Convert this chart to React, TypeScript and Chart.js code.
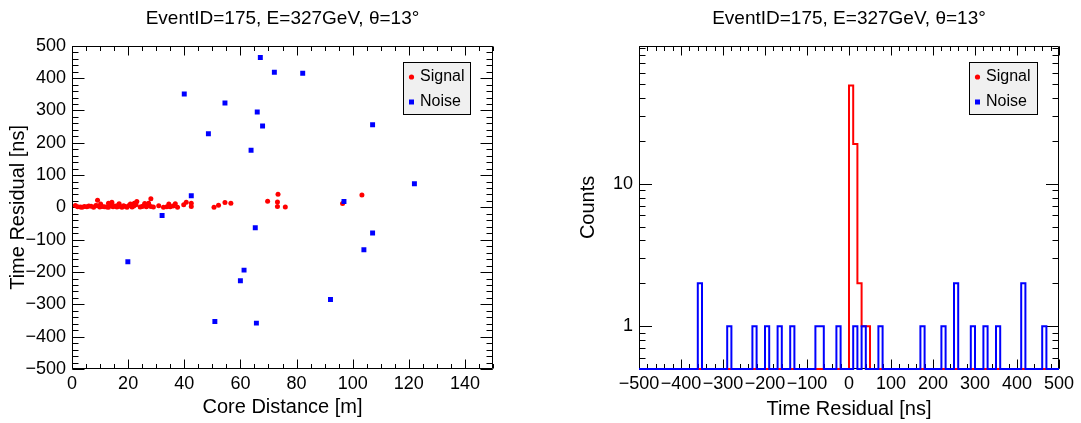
import React, { useEffect, useRef } from "react";
import { Chart, registerables } from "chart.js";

Chart.register(...registerables);

const FONT = "'Liberation Sans', Arial, Helvetica, sans-serif";
const TITLE = "EventID=175, E=327GeV, θ=13°";
const LEGEND_LABELS = ["Signal", "Noise"];
const SIGNAL_COLOR = "#ff0000";
const NOISE_COLOR = "#0000ff";

// ---- Left panel: time residual vs core distance ----
const signalDistance = [
  1.2, 2.0, 3.0, 3.6, 4.4, 5.3, 6.0, 6.8, 7.7, 8.5, 8.9, 9.9, 10.7, 11.5, 12.4, 13.0, 13.6, 14.6, 15.3, 16.0,
  16.6, 17.2, 17.8, 18.4, 19.0, 19.6, 20.3, 21.4, 22.0, 22.8, 24.3, 25.0, 25.5, 26.5, 27.0, 28.1, 29.0, 30.9,
  32.6, 33.8, 35.0, 36.0, 37.6,
  10.2, 13.0, 13.8, 14.2, 16.8, 20.8, 22.2, 23.1, 25.9, 27.3, 34.5, 36.8,
  9.1, 28.1,
  39.8, 40.7, 42.5, 42.5, 50.6, 52.2, 54.5, 56.6, 69.7, 73.2, 73.2, 73.4, 76.0, 96.4, 103.3,
];
const signalResidual = [
  6, 2, 1, 0.5, 3, 2, 4, 3.5, 0.5, 6, 5, 1, 3, 2, 1, 0.5, 6, 2, 4, 1,
  8, 3, 0.5, 5, 3, 0.2, 6, 1, 4, 8, 1, 3, 5, 2, 6, 3, 1, 5,
  0.5, 2, 2, 4, 0.5,
  10.5, 13, 11, 16, 11, 10.5, 13, 18, 12, 13, 10.2, 11,
  22, 27,
  8, 16, 13, 3, 0.5, 7, 15, 13, 19, 17, 2.5, 41, 1.5, 12, 38.7,
];
const noiseDistance = [
  67.1, 72.1, 82.2, 40.0, 54.5, 66.0, 48.6, 67.9, 63.8, 107.1, 122.0, 42.5, 96.9, 32.1, 65.3, 107.1, 104.0,
  19.9, 61.3, 60.0, 92.1, 50.9, 65.7,
];
const noiseResidual = [
  464, 418, 415, 351, 323, 295, 228, 252, 177, 256, 73, 36, 18, -25, -63, -79, -131, -168, -194, -227, -285,
  -353, -358,
];
const distanceTicks = [0, 20, 40, 60, 80, 100, 120, 140];
const residualTicks = [-500, -400, -300, -200, -100, 0, 100, 200, 300, 400, 500];

// ---- Right panel: time residual histogram (10 ns bins) ----
const BIN_WIDTH = 10;
const signalBinStart = [0, 10, 20, 30, 40];
const signalBinCount = [49, 19, 2, 1, 1];
const noiseBinStart = [-360, -290, -230, -200, -170, -140, -80, -70, -30, 10, 30, 70, 170, 220, 250, 290, 320, 350, 410, 460];
const noiseBinCount = [2, 1, 1, 1, 1, 1, 1, 1, 1, 1, 1, 1, 1, 1, 2, 1, 1, 1, 2, 1];
const histTicks = [-500, -400, -300, -200, -100, 0, 100, 200, 300, 400, 500];
const countTicks = [1, 10];
const COUNT_MIN = 0.5;
const COUNT_MAX = 93;

function range(a: number, b: number, step: number): number[] {
  const out: number[] = [];
  for (let v = a; v <= b + 1e-9; v += step) out.push(Math.round(v * 1000) / 1000);
  return out;
}

function fmt(v: number): string {
  return v < 0 ? "\u2212" + Math.abs(v) : String(v);
}

function stepOutline(starts: number[], counts: number[], lo: number, hi: number, floor: number) {
  const pts: { x: number; y: number }[] = [];
  const n = Math.round((hi - lo) / BIN_WIDTH);
  const full: number[] = new Array(n).fill(0);
  starts.forEach((s, i) => {
    const idx = Math.round((s - lo) / BIN_WIDTH);
    full[idx] = counts[i];
  });
  for (let i = 0; i < n; i++) pts.push({ x: lo + i * BIN_WIDTH, y: Math.max(full[i], floor) });
  pts.push({ x: hi, y: Math.max(full[n - 1], floor) });
  return pts;
}

const rootFrame = {
  id: "rootFrame",
  beforeDatasetsDraw(chart: any, _args: any, o: any) {
    const { ctx, chartArea: ca, scales } = chart;
    const L = Math.round(ca.left) + 0.5;
    const R = Math.round(ca.right) - 0.5;
    const T = Math.round(ca.top) + 0.5;
    const B = Math.round(ca.bottom) - 0.5;
    ctx.save();
    ctx.strokeStyle = "#000";
    ctx.lineWidth = 1;
    ctx.beginPath();
    ctx.rect(L, T, R - L, B - T);
    const xs: [number[], number][] = [
      [o.xMajor, o.xMajorLen],
      [o.xMinor, o.xMinorLen],
    ];
    for (const [vals, len] of xs) {
      for (const v of vals) {
        const p = Math.round(scales.x.getPixelForValue(v)) + 0.5;
        if (p < L - 1 || p > R + 1) continue;
        ctx.moveTo(p, B);
        ctx.lineTo(p, B - len);
        ctx.moveTo(p, T);
        ctx.lineTo(p, T + len);
      }
    }
    const ys: [number[], number][] = [
      [o.yMajor, o.yMajorLen],
      [o.yMinor, o.yMinorLen],
    ];
    for (const [vals, len] of ys) {
      for (const v of vals) {
        const p = Math.round(scales.y.getPixelForValue(v)) + 0.5;
        if (p < T - 1 || p > B + 1) continue;
        ctx.moveTo(L, p);
        ctx.lineTo(L + len, p);
        ctx.moveTo(R, p);
        ctx.lineTo(R - len, p);
      }
    }
    ctx.stroke();
    ctx.restore();
  },
  afterDraw(chart: any, _args: any, o: any) {
    const { ctx, chartArea: ca } = chart;
    const bx = Math.round(ca.right - o.legendRight - o.legendWidth) + 0.5;
    const by = Math.round(ca.top + o.legendTop) + 0.5;
    const bw = o.legendWidth;
    const bh = o.legendHeight;
    ctx.save();
    ctx.fillStyle = "#f0f0f0";
    ctx.fillRect(bx, by, bw, bh);
    ctx.strokeStyle = "#000";
    ctx.lineWidth = 1;
    ctx.strokeRect(bx, by, bw, bh);
    const rows = [by + 14.5, by + 39.5];
    const mx = bx + 8;
    // Signal marker
    ctx.fillStyle = SIGNAL_COLOR;
    ctx.beginPath();
    ctx.arc(mx, rows[0], 2.6, 0, Math.PI * 2);
    ctx.fill();
    // Noise marker
    ctx.fillStyle = NOISE_COLOR;
    ctx.fillRect(mx - 2.5, rows[1] - 2.5, 5, 5);
    ctx.fillStyle = "#000";
    ctx.font = `16px ${FONT}`;
    ctx.textBaseline = "middle";
    ctx.textAlign = "left";
    ctx.fillText(LEGEND_LABELS[0], bx + 16.5, rows[0]);
    ctx.fillText(LEGEND_LABELS[1], bx + 16.5, rows[1]);
    ctx.restore();
  },
};

function titleOpts() {
  return {
    display: true,
    text: TITLE,
    fullSize: false,
    color: "#000",
    font: { family: FONT, size: 19, weight: "normal" as const },
    padding: { top: 7, bottom: 16 },
  };
}

function axisTicks(pad: number) {
  return {
    color: "#000",
    font: { family: FONT, size: 18 },
    padding: pad,
    autoSkip: false,
    maxRotation: 0,
    minRotation: 0,
    callback: (v: any) => fmt(Number(v)),
  };
}

function ScatterPanel() {
  const ref = useRef<HTMLCanvasElement>(null);
  useEffect(() => {
    if (!ref.current) return;
    const chart = new Chart(ref.current, {
      type: "scatter",
      data: {
        datasets: [
          {
            label: LEGEND_LABELS[0],
            data: signalDistance.map((d, i) => ({ x: d, y: signalResidual[i] })),
            backgroundColor: SIGNAL_COLOR,
            borderWidth: 0,
            pointRadius: 2.5,
            pointStyle: "circle",
            order: 1,
          },
          {
            label: LEGEND_LABELS[1],
            data: noiseDistance.map((d, i) => ({ x: d, y: noiseResidual[i] })),
            backgroundColor: NOISE_COLOR,
            borderWidth: 0,
            pointRadius: 3.5,
            pointStyle: "rect",
            order: 0,
          },
        ],
      },
      options: {
        animation: false,
        responsive: false,
        events: [],
        layout: { padding: { left: 0, right: 47, top: 0, bottom: 0 } },
        plugins: {
          legend: { display: false },
          tooltip: { enabled: false },
          title: titleOpts(),
          rootFrame: {
            xMajor: distanceTicks,
            xMinor: range(0, 150, 5),
            xMajorLen: 9,
            xMinorLen: 4.5,
            yMajor: residualTicks,
            yMinor: range(-500, 500, 20),
            yMajorLen: 12,
            yMinorLen: 6,
            legendRight: 23,
            legendWidth: 67,
            legendTop: 16,
            legendHeight: 52,
          },
        } as any,
        scales: {
          x: {
            type: "linear",
            min: 0,
            max: 150,
            grid: { display: false, drawTicks: false },
            border: { display: false },
            ticks: axisTicks(4),
            afterBuildTicks: (s: any) => {
              s.ticks = distanceTicks.map((v) => ({ value: v }));
            },
            afterFit: (s: any) => {
              s.height = 54;
            },
            title: {
              display: true,
              text: "Core Distance [m]",
              color: "#000",
              font: { family: FONT, size: 20 },
              padding: { top: 0, bottom: 4 },
            },
          },
          y: {
            type: "linear",
            min: -500,
            max: 500,
            grid: { display: false, drawTicks: false },
            border: { display: false },
            ticks: axisTicks(6),
            afterBuildTicks: (s: any) => {
              s.ticks = residualTicks.map((v) => ({ value: v }));
            },
            afterFit: (s: any) => {
              s.width = 72;
            },
            title: {
              display: true,
              text: "Time Residual [ns]",
              color: "#000",
              font: { family: FONT, size: 20 },
              padding: { top: 6, bottom: 0 },
            },
          },
        },
      },
      plugins: [rootFrame],
    });
    return () => chart.destroy();
  }, []);
  return <canvas ref={ref} width={540} height={423} style={{ position: "absolute", left: 0, top: 0 }} />;
}

function HistPanel() {
  const ref = useRef<HTMLCanvasElement>(null);
  useEffect(() => {
    if (!ref.current) return;
    const chart = new Chart(ref.current, {
      type: "scatter",
      data: {
        datasets: [
          {
            label: LEGEND_LABELS[0],
            data: stepOutline(signalBinStart, signalBinCount, -500, 500, COUNT_MIN),
            showLine: true,
            stepped: "before",
            borderColor: SIGNAL_COLOR,
            borderWidth: 2,
            pointRadius: 0,
            fill: false,
            clip: 3,
            order: 1,
          },
          {
            label: LEGEND_LABELS[1],
            data: stepOutline(noiseBinStart, noiseBinCount, -500, 500, COUNT_MIN),
            showLine: true,
            stepped: "before",
            borderColor: NOISE_COLOR,
            borderWidth: 2,
            pointRadius: 0,
            fill: false,
            clip: 3,
            order: 0,
          },
        ],
      },
      options: {
        animation: false,
        responsive: false,
        events: [],
        layout: { padding: { left: 0, right: 22, top: 0, bottom: 0 } },
        plugins: {
          legend: { display: false },
          tooltip: { enabled: false },
          title: titleOpts(),
          rootFrame: {
            xMajor: histTicks,
            xMinor: range(-500, 500, 20),
            xMajorLen: 9,
            xMinorLen: 4.5,
            yMajor: countTicks,
            yMinor: [0.6, 0.7, 0.8, 0.9, 2, 3, 4, 5, 6, 7, 8, 9, 20, 30, 40, 50, 60, 70, 80, 90],
            yMajorLen: 12.5,
            yMinorLen: 6,
            legendRight: 22,
            legendWidth: 68,
            legendTop: 16,
            legendHeight: 52,
          },
        } as any,
        scales: {
          x: {
            type: "linear",
            min: -500,
            max: 500,
            grid: { display: false, drawTicks: false },
            border: { display: false },
            ticks: axisTicks(4),
            afterBuildTicks: (s: any) => {
              s.ticks = histTicks.map((v) => ({ value: v }));
            },
            afterFit: (s: any) => {
              s.height = 54;
            },
            title: {
              display: true,
              text: "Time Residual [ns]",
              color: "#000",
              font: { family: FONT, size: 20 },
              padding: { top: 0, bottom: 2 },
            },
          },
          y: {
            type: "logarithmic",
            min: COUNT_MIN,
            max: COUNT_MAX,
            grid: { display: false, drawTicks: false },
            border: { display: false },
            ticks: axisTicks(6),
            afterBuildTicks: (s: any) => {
              s.ticks = countTicks.map((v) => ({ value: v }));
            },
            afterFit: (s: any) => {
              s.width = 99;
            },
            title: {
              display: true,
              text: "Counts",
              color: "#000",
              font: { family: FONT, size: 20 },
              padding: { top: 36, bottom: 0 },
            },
          },
        },
      },
      plugins: [rootFrame],
    });
    return () => chart.destroy();
  }, []);
  return <canvas ref={ref} width={541} height={423} style={{ position: "absolute", left: 540, top: 0 }} />;
}

export default function App() {
  return (
    <div style={{ position: "absolute", left: 0, top: 0, width: 1081, height: 423, background: "#fff" }}>
      <ScatterPanel />
      <HistPanel />
    </div>
  );
}
